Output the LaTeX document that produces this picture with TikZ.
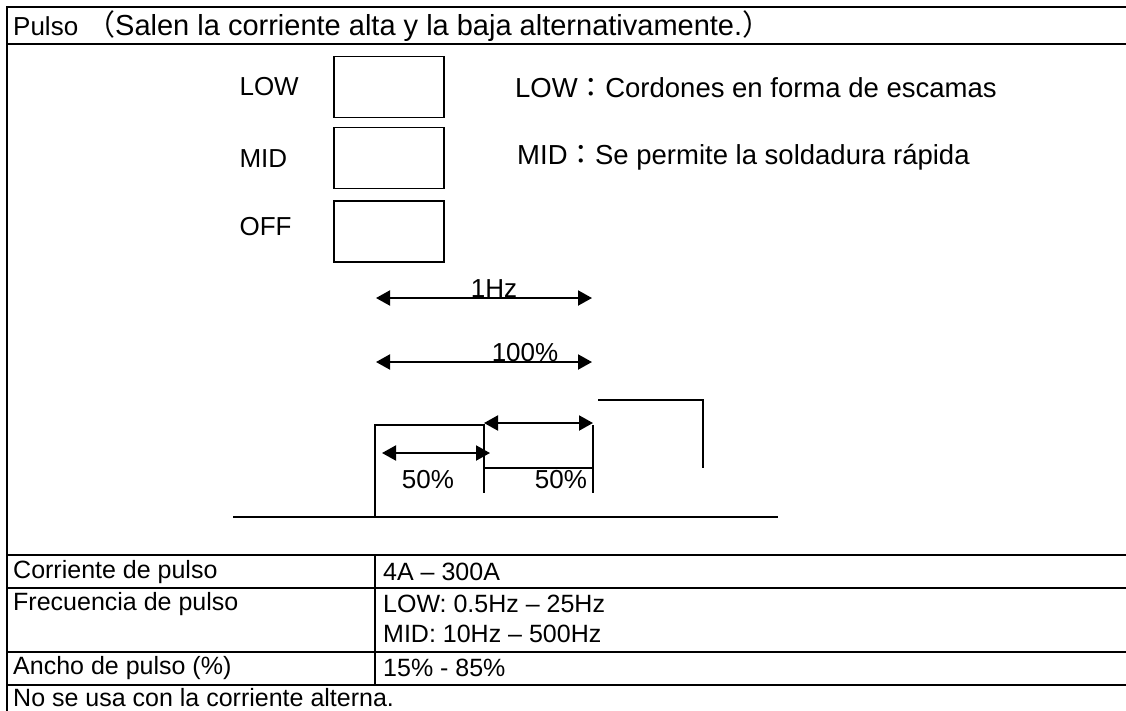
\documentclass[tikz,border=0pt]{standalone}
\usepackage{fontspec}
\setmainfont{Liberation Sans}
\newfontfamily\cjk{Noto Sans CJK JP}
\usetikzlibrary{positioning,arrows.meta}

\begin{document}
\begin{tikzpicture}[x=1pt, y=-1pt,
  font=\fontsize{26}{30}\selectfont,
  frame/.style={line width=2pt},
  wave/.style={line width=2pt},
  swbox/.style={draw, line width=1.3pt, minimum width=110pt, minimum height=61pt, inner sep=0pt},
  dim/.style={{Triangle[length=14pt,width=15pt]}-{Triangle[length=14pt,width=15pt]}, line width=2pt},
  cell/.style={anchor=west, inner sep=0pt, font=\fontsize{25}{29}\selectfont},
  wide/.style={anchor=west, inner sep=0pt, font=\fontsize{27.5}{32}\selectfont},
  node distance=10pt and 34pt]
\useasboundingbox (0,0) rectangle (1126,710);
\clip (0,0) rectangle (1126,710);
% table frame
\draw[frame] (7,7) -- (1130,7);
\draw[frame] (7,44) -- (1130,44);
\draw[frame] (7,555) -- (1130,555);
\draw[frame] (7,588) -- (1130,588);
\draw[frame] (7,652) -- (1130,652);
\draw[frame] (7,685) -- (1130,685);
\draw[frame] (7,6) -- (7,720);
\draw[frame] (375,555) -- (375,685);
% header
\node[anchor=west, inner sep=0pt] (title) at (13,26) {Pulso};
\node[wide, font=\fontsize{29}{33}\selectfont] (note) at (86,26) {{\cjk （}Salen la corriente alta y la baja alternativamente.{\cjk ）}};
% switch positions
\node[swbox] (low) at (389,87) {};
\node[swbox, below=9pt of low] (mid) {};
\node[swbox, below=11pt of mid] (off) {};
\node[left=94pt of low.west, anchor=west, inner sep=0pt] (lowlbl) {LOW};
\node[left=94pt of mid.west, anchor=west, inner sep=0pt] (midlbl) {MID};
\node[left=94pt of off.west, anchor=west, inner sep=0pt, yshift=5pt] (offlbl) {OFF};
\node[wide] (lowtxt) at (515,88) {LOW{\cjk ：}Cordones en forma de escamas};
\node[wide] (midtxt) at (517,157) {MID{\cjk ：}Se permite la soldadura rápida};
% frequency and duty
\coordinate (fa) at (376,298);
\coordinate (fb) at (592,298);
\coordinate (da) at (376,362);
\coordinate (db) at (592,362);
\draw[dim] (fa) -- (fb);
\draw[dim] (da) -- (db);
\node[above=-3pt] (hz) at (494,298) {1Hz};
\node[above=-3pt] (pct) at (525,362) {100\%};
% pulse waveform
\coordinate (g0) at (233,517);
\coordinate (g1) at (778,517);
\coordinate (p0) at (375,517);
\coordinate (p1) at (375,425);
\coordinate (p2) at (484,425);
\coordinate (p3) at (484,493);
\coordinate (q1) at (593,425);
\coordinate (q2) at (593,493);
\coordinate (r0) at (598,400);
\coordinate (r1) at (703,400);
\coordinate (r2) at (703,468);
\draw[wave] (g0) -- (g1);
\draw[wave] (p0) -- (p1) -- (p2) -- (p3);
\draw[wave] (q1) -- (q2);
\draw[wave] (p2 |- 0,468) -- (q1 |- 0,468);
\draw[wave] (r0) -- (r1) -- (r2);
\coordinate (ha) at (382,453);
\coordinate (hb) at (490,453);
\draw[dim] (ha) -- (hb);
\draw[dim] (p2 |- 0,423) -- (q1 |- 0,423);
\node (lowpct) at (428,480) {50\%};
\node (highpct) at (561,480) {50\%};
% table rows
\node[cell] (r1a) at (13,572) {Corriente de pulso};
\node[cell] (r1b) at (383,572) {4A – 300A};
\node[cell] (r2a) at (13,604) {Frecuencia de pulso};
\node[cell] (r2b) at (383,604) {LOW: 0.5Hz – 25Hz};
\node[cell] (r2c) at (383,634) {MID: 10Hz – 500Hz};
\node[cell] (r3a) at (13,668) {Ancho de pulso (\%)};
\node[cell] (r3b) at (383,668) {15\% - 85\%};
\node[cell, anchor=base west] (r4a) at (13,706) {No se usa con la corriente alterna.};
\end{tikzpicture}
\end{document}
